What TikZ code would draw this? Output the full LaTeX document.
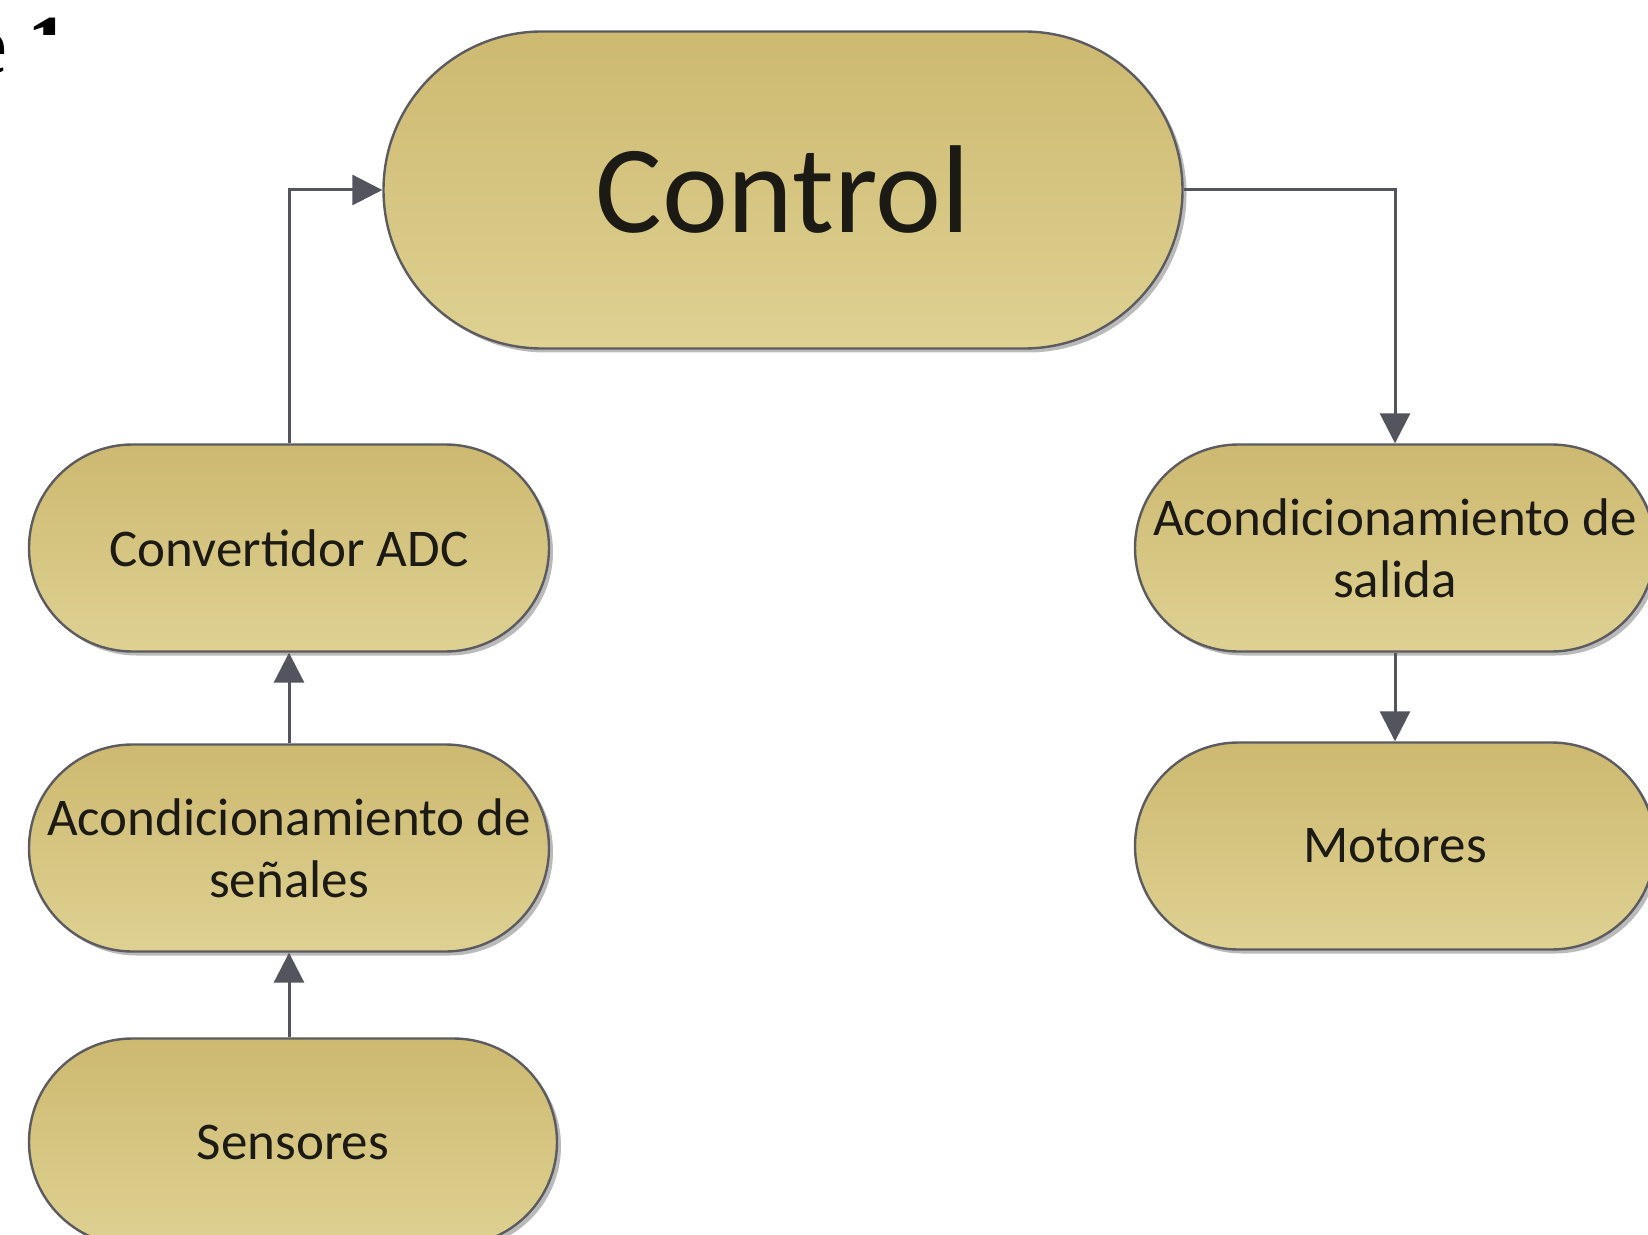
\documentclass[tikz,border=0pt]{standalone}
\usepackage{fontspec}
\setmainfont{Carlito}
\newfontfamily\capfont{Liberation Serif}
\usetikzlibrary{shapes.misc,arrows.meta,shadows}
\definecolor{boxtop}{RGB}{205,185,112}
\definecolor{boxbot}{RGB}{222,209,146}
\definecolor{boxline}{RGB}{92,92,96}
\definecolor{flowline}{RGB}{84,84,94}
\definecolor{boxtext}{RGB}{28,26,20}
\tikzset{
  bloque/.style={
    rounded rectangle, draw=boxline, line width=1.2pt,
    top color=boxtop, bottom color=boxbot, text=boxtext,
    drop shadow={shadow xshift=2pt, shadow yshift=-2pt, opacity=0.45, fill=black!60},
    minimum width=260pt, minimum height=103.5pt, inner sep=0pt,
    align=center, font=\fontsize{26.5}{31}\selectfont,
    #1
  },
  flujo/.style={
    draw=flowline, line width=1.5pt,
    -{Triangle[length=15pt,width=15pt]}
  }
}

\begin{document}
\begin{tikzpicture}[x=0.5pt,y=0.5pt,yscale=-1,xscale=1]
\useasboundingbox (0,0) rectangle (1648,1235);

% cut caption at the top left
\node (pie) [anchor=base west, inner sep=0pt, font=\capfont\bfseries\fontsize{42}{42}\selectfont] at (-31,74) {e 1};
\fill [white] (30,35) rectangle (1700,1300);

% Text Node
\node (control) [bloque={minimum width=399.5pt, minimum height=158.5pt, font=\fontsize{62.5}{70}\selectfont}] at (783,190) {Control};
% Text Node
\node (adc) [bloque] at (289,548) {Convertidor ADC};
% Text Node
\node (senal) [bloque] at (289,848) {Acondicionamiento de\\se\~nales};
% Text Node
\node (sensor) [bloque={minimum width=264pt}] at (293,1142) {Sensores};
% Text Node
\node (salida) [bloque] at (1395,548) {Acondicionamiento de\\salida};
% Text Node
\node (motor) [bloque] at (1395,846) {Motores};

% Connectors
\draw [flujo] (sensor.north -| senal.north) -- (senal.south);
\draw [flujo] (senal.north) -- (adc.south);
\draw [flujo] (adc.north) |- (control.west);
\draw [flujo] (control.east) -| (salida.north);
\draw [flujo] (salida.south) -- (motor.north);

\end{tikzpicture}
\end{document}
